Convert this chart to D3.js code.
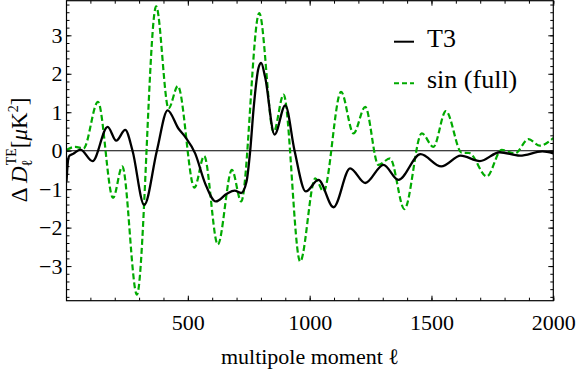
<!DOCTYPE html>
<html>
<head>
<meta charset="utf-8">
<script src="https://cdnjs.cloudflare.com/ajax/libs/d3/7.8.5/d3.min.js"></script>
<style>
  body { margin: 0; background: #fff; }
  text { font-family: "Liberation Serif", serif; fill: #000; }
</style>
</head>
<body>
<svg id="chart" width="576" height="373"></svg>
<script>
// multipole moment ell and Delta D_ell^TE
var t3Ell = [2, 5, 9, 14, 30, 59, 109, 171, 206, 243, 273, 321, 373, 417, 462, 489, 530, 571, 615, 660, 692, 719, 741, 756, 770, 790, 801,
  817, 856, 900, 938, 984, 1036, 1098, 1166, 1228, 1303, 1364, 1455, 1540, 1620, 1699, 1780, 1863, 1955, 2000];
var t3Val = [-0.80, -0.50, -0.22, -0.13, -0.08, 0.03, -0.27, 0.62, 0.26, 0.54, 0.0, -1.41, 0.0, 1.05, 0.57, 0.36, -0.07, -0.85, -1.32, -1.12, -1.04, -1.10, -0.80, 0.0, 1.10, 2.15, 2.28,
  1.92, 0.42, 1.18, 0.0, -1.06, -0.76, -1.47, -0.46, -0.84, -0.37, -0.76, -0.09, -0.41, -0.13, -0.27, -0.04, -0.13, -0.02, -0.07];

var sinEll = [2, 38, 72, 131, 193, 231, 291, 370, 421, 459, 527, 567, 623, 681, 719, 793, 852, 893, 961, 1023, 1057, 1129, 1180, 1228,
  1282, 1330, 1389, 1460, 1508, 1559, 1624, 1655, 1727, 1788, 1843, 1898, 1945, 2000];
var sinVal = [0.02, 0.10, 0.06, 1.27, -1.23, -0.41, -3.74, 3.75, 1.10, 1.68, -0.96, -0.14, -2.44, -0.50, -1.32, 3.58, 0.48, 1.46, -2.88, -0.72, -1.06, 1.53, 0.45, 1.14,
  -0.37, -0.20, -1.52, 0.45, 0.10, 1.03, -0.05, -0.06, -0.67, 0.02, -0.07, 0.30, 0.13, 0.33];

var xTicks = [500, 1000, 1500, 2000];
var yTicks = [-3, -2, -1, 0, 1, 2, 3];
var legendLabels = ["T3", "sin (full)"];

var svg = d3.select("#chart");
var pLeft = 66.5, pRight = 553.3, pTop = 0.7, pBottom = 300.7;
var green = "#00aa00";

var x = d3.scaleLinear().domain([2, 2000]).range([pLeft, pRight]);
var y = d3.scaleLinear().domain([-3.9, 3.9]).range([pBottom, pTop]);

var minorX = d3.range(100, 2001, 100);
var minorY = d3.range(-38, 39, 2).map(function(d) { return d / 10; });

// clip for the curves
svg.append("clipPath").attr("id", "clip")
  .append("rect").attr("x", pLeft).attr("y", pTop)
  .attr("width", pRight - pLeft).attr("height", pBottom - pTop);

// zero line
svg.append("line")
  .attr("x1", pLeft).attr("x2", pRight)
  .attr("y1", y(0)).attr("y2", y(0))
  .attr("stroke", "#000").attr("stroke-width", 1.1);

var line = d3.line()
  .x(function(d) { return x(d[0]); })
  .y(function(d) { return y(d[1]); })
  .curve(d3.curveMonotoneX);

svg.append("path")
  .datum(sinEll.map(function(l, i) { return [l, sinVal[i]]; }))
  .attr("clip-path", "url(#clip)")
  .attr("fill", "none")
  .attr("stroke", green)
  .attr("stroke-width", 2.2)
  .attr("stroke-dasharray", "6,3")
  .attr("d", line);

svg.append("path")
  .datum(t3Ell.map(function(l, i) { return [l, t3Val[i]]; }))
  .attr("clip-path", "url(#clip)")
  .attr("fill", "none")
  .attr("stroke", "#000")
  .attr("stroke-width", 2.3)
  .attr("d", line);

// axes, ticks pointing inward
function ticksOnly(g) {
  g.select(".domain").remove();
  g.selectAll("line").attr("stroke", "#000").attr("stroke-width", 1);
}

svg.append("g").attr("transform", "translate(0," + pBottom + ")")
  .call(d3.axisBottom(x).tickValues(minorX).tickSize(-3).tickFormat(""))
  .call(ticksOnly);
svg.append("g").attr("transform", "translate(0," + pTop + ")")
  .call(d3.axisTop(x).tickValues(minorX).tickSize(-3).tickFormat(""))
  .call(ticksOnly);
svg.append("g").attr("transform", "translate(" + pLeft + ",0)")
  .call(d3.axisLeft(y).tickValues(minorY).tickSize(-3).tickFormat(""))
  .call(ticksOnly);
svg.append("g").attr("transform", "translate(" + pRight + ",0)")
  .call(d3.axisRight(y).tickValues(minorY).tickSize(-3).tickFormat(""))
  .call(ticksOnly);

svg.append("g").attr("class", "lab").attr("transform", "translate(0," + pBottom + ")")
  .call(d3.axisBottom(x).tickValues(xTicks).tickSize(-5).tickPadding(14).tickFormat(d3.format("d")))
  .call(ticksOnly);
svg.append("g").attr("class", "lab").attr("transform", "translate(" + pLeft + ",0)")
  .call(d3.axisLeft(y).tickValues(yTicks).tickSize(-5).tickPadding(4).tickFormat(d3.format("d")))
  .call(ticksOnly);
svg.append("g").attr("transform", "translate(0," + pTop + ")")
  .call(d3.axisTop(x).tickValues(xTicks).tickSize(-5).tickFormat(""))
  .call(ticksOnly);
svg.append("g").attr("transform", "translate(" + pRight + ",0)")
  .call(d3.axisRight(y).tickValues(yTicks).tickSize(-5).tickFormat(""))
  .call(ticksOnly);

svg.selectAll("g.lab text")
  .style("font-family", "'Liberation Serif', serif")
  .style("font-size", "22px");

// frame
svg.append("rect")
  .attr("x", pLeft).attr("y", pTop)
  .attr("width", pRight - pLeft).attr("height", pBottom - pTop)
  .attr("fill", "none").attr("stroke", "#000").attr("stroke-width", 1.2);

// x label
svg.append("text")
  .attr("x", (pLeft + pRight) / 2)
  .attr("y", 364)
  .attr("text-anchor", "middle")
  .style("font-size", "22px")
  .text("multipole moment \u2113");

// y label
var yl = svg.append("text")
  .attr("transform", "translate(27,150) rotate(-90)")
  .attr("text-anchor", "middle")
  .style("font-size", "23px");
yl.append("tspan").text("\u0394 ");
yl.append("tspan").style("font-style", "italic").text("D");
yl.append("tspan").style("font-size", "15px").attr("dy", 5).text("\u2113");
yl.append("tspan").style("font-size", "14px").attr("dx", -6).attr("dy", -16).text("TE");
yl.append("tspan").attr("dy", 11).text("[");
yl.append("tspan").style("font-style", "italic").text("\u03bc");
yl.append("tspan").text("K");
yl.append("tspan").style("font-size", "14px").attr("dy", -9).text("2");
yl.append("tspan").attr("dy", 9).text("]");

// legend
var legend = svg.append("g");
legendLabels.forEach(function(lab, i) {
  var ly = 41.7 + i * 41.6;
  legend.append("line")
    .attr("x1", 394).attr("x2", 414)
    .attr("y1", ly).attr("y2", ly)
    .attr("stroke", i == 0 ? "#000" : green)
    .attr("stroke-width", 2)
    .attr("stroke-dasharray", i == 0 ? null : "5,3");
  legend.append("text")
    .attr("x", 427)
    .attr("y", ly + 5)
    .style("font-size", "26px")
    .text(lab);
});
</script>
</body>
</html>
